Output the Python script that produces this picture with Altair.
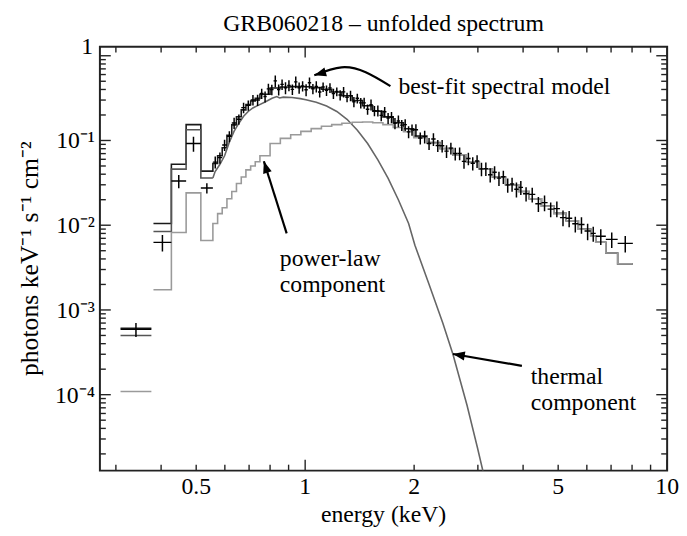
import altair as alt
import pandas as pd

FONT = "Liberation Serif"

title_text = "GRB060218 – unfolded spectrum"
x_title = "energy (keV)"
y_title = "photons keV⁻¹ s⁻¹ cm⁻²"

x_domain = [0.271, 10.0]
y_domain = [1.27e-5, 1.28]

x_label_values = [0.5, 1, 2, 5, 10]
x_label_text = ["0.5", "1", "2", "5", "10"]
y_label_values = [1e-4, 1e-3, 1e-2, 1e-1]
y_label_text = ["10⁻⁴", "10⁻³", "10⁻²", "10⁻¹"]
y_top_label_value = [1]
y_top_label_text = ["1"]

x_major_ticks = [1, 10]
x_minor_ticks = [0.3, 0.4, 0.5, 0.6, 0.7, 0.8, 0.9, 2, 3, 4, 5, 6, 7, 8, 9]
y_major_ticks = [1e-4, 1e-3, 1e-2, 1e-1, 1]
y_minor_ticks = [m * 10.0 ** k for k in range(-5, 0) for m in range(2, 10)]

# ---- observed spectrum (energy bins in keV, flux, error in %) ----
bin_a = [0.309, 0.376]
data_edges = [
    0.381, 0.427, 0.469, 0.515, 0.556,
    0.573, 0.590, 0.608, 0.627, 0.646, 0.666, 0.686, 0.707, 0.728, 0.750,
    0.767, 0.783, 0.800, 0.818, 0.836, 0.854, 0.873, 0.892, 0.912, 0.932,
    0.952, 0.973, 0.995, 1.017, 1.039, 1.062, 1.085, 1.109, 1.133, 1.158,
    1.184, 1.210, 1.236, 1.263, 1.291, 1.320, 1.349, 1.378, 1.409, 1.440,
    1.471, 1.504, 1.537, 1.571, 1.605, 1.640, 1.677, 1.713, 1.751, 1.790,
    1.829, 1.869, 1.910, 1.952, 1.995,
    2.051, 2.109, 2.169, 2.230, 2.293, 2.357, 2.424, 2.492, 2.562, 2.634,
    2.709, 2.785, 2.864, 2.944, 3.027, 3.113, 3.200, 3.291, 3.383, 3.479,
    3.577, 3.678, 3.781, 3.888, 3.998,
    4.157, 4.323, 4.496, 4.675, 4.862, 5.056, 5.258, 5.468, 5.686, 5.913, 6.150,
    6.350, 6.770, 7.300, 8.040,
]
data_flux = [
    5.9e-4,
    0.00628, 0.0332, 0.092, 0.0275,
    0.0556, 0.0627, 0.0886, 0.112, 0.161, 0.178, 0.244, 0.260, 0.301, 0.301,
    0.358, 0.330, 0.407, 0.398, 0.505, 0.399, 0.459, 0.419, 0.447, 0.401,
    0.492, 0.419, 0.440, 0.397, 0.480, 0.408, 0.434, 0.374, 0.428, 0.390,
    0.418, 0.358, 0.378, 0.344, 0.375, 0.324, 0.338, 0.286, 0.315, 0.278,
    0.278, 0.234, 0.265, 0.224, 0.225, 0.198, 0.218, 0.184, 0.188, 0.160,
    0.170, 0.152, 0.154, 0.1265, 0.134,
    0.134, 0.107, 0.111, 0.092, 0.104, 0.0873, 0.0867, 0.0749, 0.0813, 0.0701,
    0.0704, 0.0567, 0.0613, 0.0538, 0.0572, 0.0462, 0.0465, 0.0394, 0.0422, 0.0359,
    0.0373, 0.0299, 0.0306, 0.0266, 0.0280,
    0.0235, 0.0231, 0.0179, 0.0185, 0.0155, 0.0157, 0.0123, 0.0121, 0.0104, 0.0102, 0.00854,
    0.0080, 0.0074, 0.0068, 0.0061,
]
data_err_pct = [
    19,
    22, 18, 20, 14,
    16, 15, 15, 15, 15, 14, 14, 14, 14, 15,
    14, 15, 15, 14, 16, 15, 14, 16, 15, 14,
    16, 15, 14, 16, 15, 14, 15, 14, 13, 14,
    13, 14, 12, 14, 14, 13, 14, 14, 13, 14,
    15, 14, 15, 14, 15, 15, 14, 15, 15, 15,
    16, 15, 16, 16, 15,
    16, 16, 17, 16, 17, 16, 17, 17, 16, 17,
    17, 18, 17, 18, 17, 18, 18, 19, 18, 19,
    18, 19, 19, 20, 19,
    19, 20, 20, 21, 20, 21, 21, 22, 21, 22, 22,
    20, 21, 21, 22,
]

# ---- model histograms ----
model_a_total = 6.07e-4
model_a_thermal = 5.0e-4
model_a_pl = 1.09e-4

model_edges = [
    0.381, 0.427, 0.469, 0.515, 0.556,
    0.573, 0.590, 0.608, 0.627, 0.646, 0.666, 0.686, 0.707, 0.728, 0.750,
    0.800, 0.854, 0.912, 0.973, 1.039, 1.109, 1.184, 1.263, 1.349, 1.440,
    1.537, 1.640, 1.751, 1.869, 1.995, 2.169, 2.357, 2.562, 2.785, 3.027,
    3.291, 3.577, 3.888, 4.157, 4.496, 4.862, 5.258, 5.686, 6.150, 6.350,
    6.770, 7.300, 8.040,
]
model_total = [
    0.0105, 0.0525, 0.154, 0.0435,
    0.0535, 0.066, 0.082, 0.1155, 0.153, 0.191, 0.230, 0.265, 0.292, 0.314,
    0.351, 0.417, 0.428, 0.432, 0.431, 0.421, 0.402, 0.374, 0.338, 0.296,
    0.257, 0.221, 0.190, 0.162, 0.1375, 0.1125, 0.0945, 0.0805, 0.067, 0.056,
    0.046, 0.037, 0.030, 0.025, 0.0205, 0.0168, 0.0138, 0.0113, 0.0090, 0.0074,
    0.0063, 0.0047, 0.0035,
]
model_pl = [
    0.00173, 0.0082, 0.0241, 0.0066,
    0.0105, 0.0137, 0.0161, 0.0205, 0.025, 0.031, 0.037, 0.045, 0.050, 0.056,
    0.066, 0.092, 0.106, 0.117, 0.128, 0.138, 0.147, 0.154, 0.160, 0.164,
    0.165, 0.162, 0.154, 0.142, 0.127, 0.108, 0.093, 0.080, 0.067, 0.056,
    0.046, 0.037, 0.030, 0.025, 0.0205, 0.0168, 0.0138, 0.0113, 0.0090, 0.0074,
    0.0063, 0.0047, 0.0035,
]
thermal_step_edges = [0.381, 0.427, 0.469, 0.515, 0.556]
thermal_step_vals = [0.00844, 0.0459, 0.134, 0.036]
thermal_e = [0.556, 0.564, 0.581, 0.599, 0.617, 0.636, 0.656, 0.676, 0.696, 0.717,
             0.739, 0.775, 0.81, 0.835, 0.85, 0.87, 0.92, 0.97, 1.005, 1.073,
             1.146, 1.223, 1.305, 1.394, 1.488, 1.588, 1.694, 1.809, 1.931, 2.01,
             2.2, 2.4, 2.56, 2.8, 2.99, 3.1, 3.2]
thermal_v = [0.036, 0.043, 0.052, 0.066, 0.095, 0.128, 0.160, 0.193, 0.220, 0.242,
             0.258, 0.285, 0.315, 0.33, 0.318, 0.325, 0.322, 0.312, 0.303, 0.283,
             0.255, 0.22, 0.178, 0.132, 0.092, 0.059, 0.036, 0.020, 0.0105, 0.0058,
             0.0020, 7.0e-4, 3.0e-4, 7.5e-5, 2.4e-5, 1.24e-5, 6.8e-6]

# ---- annotations ----
ann_text = ["best-fit spectral model", "power-law", "component", "thermal", "component"]
ann_e = [1.81, 0.851, 0.851, 4.20, 4.20]
ann_v = [0.353, 0.00330, 0.00164, 1.35e-4, 6.52e-5]

arrow_tail_e = [0.889, 3.97]
arrow_tail_v = [0.0080, 2.19e-4]
arrow_tip_e = [0.769, 2.56]
arrow_tip_v = [0.0569, 3.02e-4]
curve_e = [1.72, 1.47, 1.26, 1.06]
curve_v = [0.438, 0.638, 0.73, 0.589]
head_e = [0.769, 2.56, 1.06]
head_v = [0.0569, 3.02e-4, 0.589]
head_angle = [342.5, 279.7, 253.5]

W, H = 574, 429
MAJ, MIN = 11, 6
FS = 24

xs = alt.Scale(type="log", domain=x_domain, nice=False)
ys = alt.Scale(type="log", domain=y_domain, nice=False)


def X(f):
    return alt.X(f, scale=xs, axis=None)


def Y(f):
    return alt.Y(f, scale=ys, axis=None)


# ---- tables ----
los = [bin_a[0]] + data_edges[:-1]
his = [bin_a[1]] + data_edges[1:]
rows = []
for lo, hi, f, p in zip(los, his, data_flux, data_err_pct):
    rows.append(dict(elo=lo, ehi=hi, ec=(lo * hi) ** 0.5, f=f,
                     flo=f * (1 - p / 100.0), fhi=f * (1 + p / 100.0)))
ddf = pd.DataFrame(rows)


def steps(edges, vals, tag):
    pts = [dict(e=e, v=v, s=tag) for e, v in zip(edges[:-1], vals)]
    pts.append(dict(e=edges[-1], v=vals[-1], s=tag))
    return pts


def step_layer(pts, color, width):
    return alt.Chart(pd.DataFrame(pts)).mark_line(
        interpolate="step-after", color=color, strokeWidth=width, clip=True
    ).encode(x=X("e:Q"), y=Y("v:Q"), detail="s:N")


total_pts = steps(bin_a, [model_a_total], "a") + steps(model_edges, model_total, "b")
pl_pts = steps(bin_a, [model_a_pl], "a") + steps(model_edges, model_pl, "b")
th_pts = steps(bin_a, [model_a_thermal], "a") + steps(thermal_step_edges, thermal_step_vals, "b")

total_layer = step_layer(total_pts, "#1a1a1a", 1.6)
th_step_layer = step_layer(th_pts, "#555555", 1.6)
pl_layer = step_layer(pl_pts, "#9a9a9a", 1.6)
th_line_layer = alt.Chart(pd.DataFrame({"e": thermal_e, "v": thermal_v})).mark_line(
    color="#666666", strokeWidth=1.6, clip=True
).encode(x=X("e:Q"), y=Y("v:Q"))

vbar = alt.Chart(ddf).mark_rule(color="black", strokeWidth=1.5, clip=True).encode(
    x=X("ec:Q"), y=Y("flo:Q"), y2="fhi:Q")
hbar = alt.Chart(ddf).mark_rule(color="black", strokeWidth=1.4, clip=True).encode(
    x=X("elo:Q"), x2="ehi:Q", y=Y("f:Q"))


# ---- inward ticks ----
def xtick(vals, length, top):
    df = pd.DataFrame({"t": vals})
    if top:
        ypos, ypos2 = alt.value(0), alt.value(length)
    else:
        ypos, ypos2 = alt.value(H), alt.value(H - length)
    return alt.Chart(df).mark_rule(color="#222222", strokeWidth=1.4).encode(
        x=X("t:Q"), y=ypos, y2=ypos2)


def ytick(vals, length, right):
    df = pd.DataFrame({"t": vals})
    if right:
        xpos, xpos2 = alt.value(W), alt.value(W - length)
    else:
        xpos, xpos2 = alt.value(0), alt.value(length)
    return alt.Chart(df).mark_rule(color="#222222", strokeWidth=1.4).encode(
        y=Y("t:Q"), x=xpos, x2=xpos2)


tick_layers = [
    xtick(x_major_ticks, MAJ, False), xtick(x_minor_ticks, MIN, False),
    xtick(x_major_ticks, MAJ, True), xtick(x_minor_ticks, MIN, True),
    ytick(y_major_ticks, MAJ, False), ytick(y_minor_ticks, MIN, False),
    ytick(y_major_ticks, MAJ, True), ytick(y_minor_ticks, MIN, True),
]

# ---- axis labels, titles (as text through the scales) ----
xlab_layer = alt.Chart(pd.DataFrame({"v": x_label_values, "t": x_label_text})).mark_text(
    align="center", baseline="top", font=FONT, fontSize=FS, color="black"
).encode(x=X("v:Q"), y=alt.value(H + 5), text="t:N")

ylab_layer = alt.Chart(pd.DataFrame({"v": y_label_values, "t": y_label_text})).mark_text(
    align="right", baseline="middle", font=FONT, fontSize=FS, color="black", dy=1
).encode(y=Y("v:Q"), x=alt.value(-5), text="t:N")

ytop_layer = alt.Chart(pd.DataFrame({"v": y_top_label_value, "t": y_top_label_text})).mark_text(
    align="right", baseline="middle", font=FONT, fontSize=FS, color="black", dy=-9
).encode(y=Y("v:Q"), x=alt.value(-7), text="t:N")

xtitle_layer = alt.Chart(pd.DataFrame({"t": [x_title]})).mark_text(
    align="center", baseline="middle", font=FONT, fontSize=FS, color="black"
).encode(x=alt.value(W / 2), y=alt.value(H + 45), text="t:N")

ytitle_layer = alt.Chart(pd.DataFrame({"t": [y_title]})).mark_text(
    align="center", baseline="middle", font=FONT, fontSize=26, color="black", angle=270
).encode(x=alt.value(-71), y=alt.value(H / 2), text="t:N")

title_layer = alt.Chart(pd.DataFrame({"t": [title_text]})).mark_text(
    align="center", baseline="middle", font=FONT, fontSize=24, color="black"
).encode(x=alt.value(W / 2), y=alt.value(-23), text="t:N")

# ---- annotations ----
text_layer = alt.Chart(pd.DataFrame({"e": ann_e, "v": ann_v, "t": ann_text})).mark_text(
    align="left", baseline="alphabetic", font=FONT, fontSize=FS, color="black"
).encode(x=X("e:Q"), y=Y("v:Q"), text="t:N")

shaft_layer = alt.Chart(pd.DataFrame({
    "e0": arrow_tail_e, "v0": arrow_tail_v, "e1": arrow_tip_e, "v1": arrow_tip_v
})).mark_rule(color="black", strokeWidth=2.2).encode(
    x=X("e0:Q"), y=Y("v0:Q"), x2="e1:Q", y2="v1:Q")

curve_layer = alt.Chart(pd.DataFrame({"e": curve_e, "v": curve_v})).mark_line(
    color="black", strokeWidth=2.2, interpolate="natural"
).encode(x=X("e:Q"), y=Y("v:Q"))

head_layer = alt.Chart(pd.DataFrame({"e": head_e, "v": head_v, "a": head_angle})).mark_point(
    shape="M0,0L-0.45,1.2L0.45,1.2Z", filled=True, size=400, color="black", opacity=1
).encode(x=X("e:Q"), y=Y("v:Q"), angle=alt.Angle("a:Q", scale=None))

chart = alt.layer(
    *tick_layers,
    total_layer, th_step_layer, th_line_layer, pl_layer,
    vbar, hbar,
    shaft_layer, curve_layer, head_layer, text_layer,
    xlab_layer, ylab_layer, ytop_layer, xtitle_layer, ytitle_layer, title_layer,
).properties(
    width=W, height=H,
    autosize=alt.AutoSizeParams(type="none"),
    padding={"left": 93, "top": 36, "right": 12, "bottom": 60},
    background="white",
).configure_view(stroke="#222222", strokeWidth=2)

chart.save("out.html", embed_options={"renderer": "svg", "actions": False})
